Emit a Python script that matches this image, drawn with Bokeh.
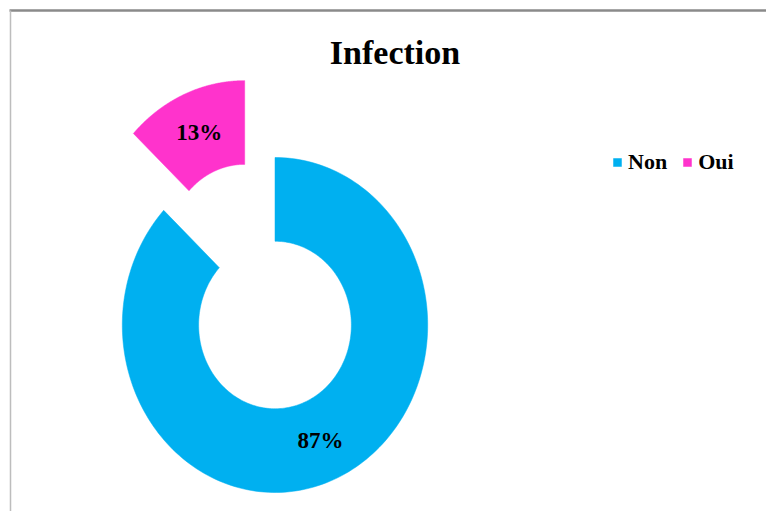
import numpy as np
from bokeh.plotting import figure
from bokeh.models import Range1d, ColumnDataSource
from bokeh.core.properties import value
from bokeh.embed import file_html
from bokeh.resources import INLINE

# ---- data ----
categories = ["Non", "Oui"]
values = [87, 13]
explode = [0.0, 0.5]
colors = ["#00B0F0", "#FF33CC"]
title_text = "Infection"

# ---- layout constants (pixels) ----
W, H = 766, 511
CX, CY = 274.5, 324.5      # donut centre in pixels
SX, SY = 152.7, 167.5      # pixels per unit radius (x, y)
HOLE = 0.5
FONT = "Liberation Serif"

x0 = -CX / SX
x1 = (W - CX) / SX
y1 = CY / SY
y0 = -(H - CY) / SY

def px(v):
    return x0 + v / SX

def py(v):
    return y1 - v / SY

p = figure(width=W, height=H, output_backend="svg", toolbar_location=None,
           x_range=Range1d(x0, x1), y_range=Range1d(y0, y1),
           min_border=0, min_border_left=0, min_border_right=0,
           min_border_top=0, min_border_bottom=0)
p.axis.visible = False
p.grid.visible = False
p.outline_line_color = None
p.background_fill_color = "white"
p.border_fill_color = "white"

total = float(sum(values))
xs, ys, lx, ly, ltxt = [], [], [], [], []
start = 0.0
for cat, v, ex in zip(categories, values, explode):
    frac = v / total
    a0, a1 = start * 2 * np.pi, (start + frac) * 2 * np.pi
    mid = (a0 + a1) / 2
    ox, oy = ex * np.sin(mid), ex * np.cos(mid)
    t = np.linspace(a0, a1, 200)
    outer_x = np.sin(t)
    outer_y = np.cos(t)
    inner_x = HOLE * np.sin(t[::-1])
    inner_y = HOLE * np.cos(t[::-1])
    xs.append(list(np.concatenate([outer_x, inner_x]) + ox))
    ys.append(list(np.concatenate([outer_y, inner_y]) + oy))
    rm = (1 + HOLE) / 2
    lx.append(rm * np.sin(mid) + ox)
    ly.append(rm * np.cos(mid) + oy)
    ltxt.append(f"{round(frac * 100):.0f}%")
    start += frac

src = ColumnDataSource(dict(xs=xs, ys=ys, color=colors, label=categories))
p.patches("xs", "ys", source=src, fill_color="color", line_color="color",
          line_width=0.5, legend_field="label")

p.text(x=lx, y=ly, text=ltxt, text_font=value(FONT), text_font_style="bold",
       text_font_size="23px", text_align="center", text_baseline="middle",
       text_color="black")

# title
p.text(x=[px(394.5)], y=[py(51.5)], text=[title_text], text_font=value(FONT),
       text_font_style="bold", text_font_size="34px", text_align="center",
       text_baseline="middle", text_color="black")

# chart-area border (top and left)
p.segment(x0=[px(9)], y0=[py(10)], x1=[px(W + 2)], y1=[py(10)],
          line_color="#8a8a8a", line_width=2.5)
p.segment(x0=[px(10)], y0=[py(10)], x1=[px(10)], y1=[py(H + 2)],
          line_color="#bdbdbd", line_width=1.5)

leg = p.legend[0]
leg.location = (612, 336)
leg.orientation = "horizontal"
leg.glyph_width = 10
leg.glyph_height = 10
leg.label_standoff = 6
leg.spacing = 15
leg.padding = 0
leg.margin = 0
leg.border_line_color = None
leg.background_fill_alpha = 0
leg.label_text_font = FONT
leg.label_text_font_style = "bold"
leg.label_text_font_size = "22px"
leg.label_text_color = "black"

open("out.html", "w").write(file_html(p, INLINE))
